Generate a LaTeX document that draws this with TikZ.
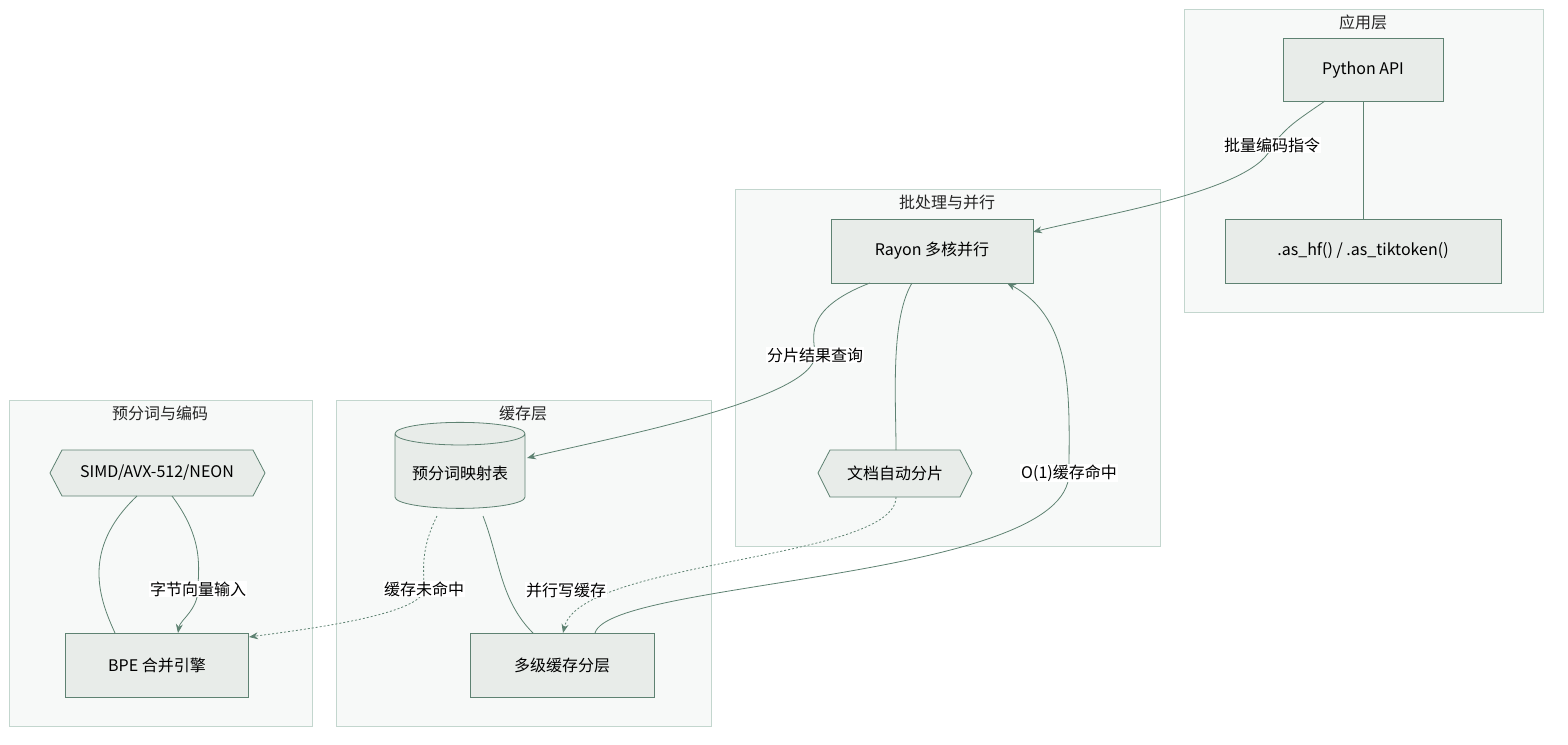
\documentclass[tikz,border=0pt]{standalone}
\usepackage{fontspec}
\setmainfont{Noto Sans CJK SC}
\usetikzlibrary{shapes.geometric,arrows.meta}
\definecolor{ln}{HTML}{5E8272}
\definecolor{nf}{HTML}{E8ECE9}
\definecolor{cf}{HTML}{F7F9F8}
\definecolor{cb}{HTML}{C3D6CE}
\begin{document}
\begin{tikzpicture}[x=1pt,y=-1pt,
  cl/.style={draw=cb,fill=cf,line width=0.8pt},
  ttl/.style={font=\fontsize{16}{19}\selectfont,text=black!85},
  box/.style={draw=ln,fill=nf,line width=0.8pt,font=\fontsize{16}{19}\selectfont},
  hexn/.style={font=\fontsize{16}{19}\selectfont,inner sep=0pt},
  hexd/.style={draw=ln,fill=nf,line width=0.8pt},
  e/.style={draw=ln,line width=0.8pt},
  a/.style={e,-{Stealth[length=9pt,width=7pt]}},
  dt/.style={e,dash pattern=on 2pt off 2pt,-{Stealth[length=9pt,width=7pt]}},
  lab/.style={fill=white,inner sep=1pt,font=\fontsize{16}{19}\selectfont}]
\useasboundingbox (0,0) rectangle (1568,744);
\draw[cl] (1184,9) rectangle (1543,312); \node[ttl] (t1) at (1363,22) {应用层};
\draw[cl] (735,189) rectangle (1160,546); \node[ttl] (t2) at (947,202) {批处理与并行};
\draw[cl] (336,400) rectangle (711,726); \node[ttl] (t3) at (523,413) {缓存层};
\draw[cl] (9,400) rectangle (312,726); \node[ttl] (t4) at (160,413) {预分词与编码};
\node[box,minimum width=160pt,minimum height=63pt] (py) at (1363,70) {Python API};
\node[box,minimum width=276pt,minimum height=64pt] (hf) at (1363,251) {.as\_hf() / .as\_tiktoken()};
\node[box,minimum width=202pt,minimum height=64pt] (ry) at (932,251) {Rayon 多核并行};
\draw[hexd] (818,473) -- (830,450) -- (960,450) -- (972,473) -- (960,497) -- (830,497) -- cycle;
\node[hexn] (doc) at (895,473) {文档自动分片};
\draw[hexd] (50,473) -- (62,450) -- (253,450) -- (265,473) -- (253,496) -- (62,496) -- cycle;
\node[hexn] (simd) at (157,473) {SIMD/AVX-512/NEON};
\node[box,minimum width=184pt,minimum height=64pt] (ml) at (562,665) {多级缓存分层};
\node[box,minimum width=183pt,minimum height=64pt] (bpe) at (157,665) {BPE 合并引擎};
\node[draw=ln,fill=nf,line width=0.8pt,cylinder,shape border rotate=90,aspect=0.22,minimum width=130pt,minimum height=86pt,font=\fontsize{16}{19}\selectfont] (cy) at (460,473) {\raisebox{-8pt}{预分词映射表}};
\coordinate (c1) at (1272,145);
\path[a] (1325,101) .. controls (1290,125) .. (c1) .. controls (1260,190) and (1100,215) .. (1033,232);
\node[lab] at (c1) {批量编码指令};
\draw[e] (1363,101) -- (hf.north);
\path[a] (870,283) .. controls (800,310) and (815,340) .. (815,355) .. controls (815,400) and (600,440) .. (527,458);
\node[lab] at (815,355) {分片结果查询};
\draw[e] (912,283) .. controls (890,320) and (896,400) .. (896,450);
\path[a] (595,633) .. controls (610,580) and (1069,580) .. (1069,473) .. controls (1069,400) and (1075,320) .. (1007,283);
\node[lab] at (1069,473) {O(1)缓存命中};
\draw[e] (483,516) .. controls (500,560) and (500,600) .. (533,633);
\path[dt] (896,497) .. controls (896,560) and (580,560) .. (563,633);
\node[lab] at (566,590) {并行写缓存};
\path[dt] (437,516) .. controls (420,550) and (424,570) .. (424,589) .. controls (424,615) and (300,630) .. (249,637);
\node[lab] at (424,589) {缓存未命中};
\draw[e] (137,496) .. controls (80,550) and (100,600) .. (115,633);
\path[a] (172,496) .. controls (205,540) and (198,570) .. (198,589) .. controls (198,610) and (180,620) .. (178,633);
\node[lab] at (198,589) {字节向量输入};
\end{tikzpicture}
\end{document}
